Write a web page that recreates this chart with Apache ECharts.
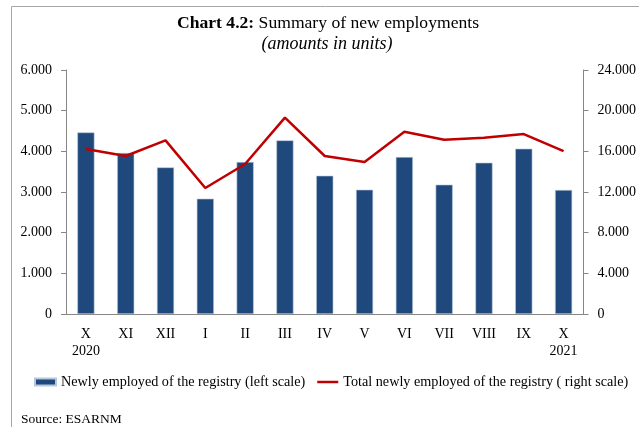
<!DOCTYPE html>
<html>
<head>
<meta charset="utf-8">
<script src="https://cdn.jsdelivr.net/npm/echarts@6/dist/echarts.min.js"></script>
<style>
  html, body { margin: 0; padding: 0; background: #fff; }
  #chart { width: 639px; height: 427px; }
</style>
</head>
<body>
<div id="chart"></div>
<script>
// monthly data, X 2020 - X 2021
const months = ['X\n2020', 'XI', 'XII', 'I', 'II', 'III', 'IV', 'V', 'VI', 'VII', 'VIII', 'IX', 'X\n2021'];
const newlyEmployed = [4465, 3960, 3605, 2835, 3737, 4270, 3400, 3056, 3860, 3180, 3720, 4065, 3050];
const totalEmployed = [16230, 15540, 17075, 12390, 14750, 19310, 15540, 14950, 17930, 17140, 17340, 17700, 16030];
const leftTicks = { min: 0, max: 6000, interval: 1000 };
const rightTicks = { min: 0, max: 24000, interval: 4000 };

const FONT = '"Liberation Serif", serif';
const AXIS_GRAY = '#868686';

function fmt(v) {
  // thousands with dot separator
  return String(v).replace(/\B(?=(\d{3})+(?!\d))/g, '.');
}

const chart = echarts.init(document.getElementById('chart'));
chart.setOption({
  animation: false,
  textStyle: { fontFamily: FONT, color: '#000' },
  title: [
    {
      text: '{b|Chart 4.2:} Summary of new employments',
      left: 328, textAlign: 'center', top: 14, padding: 0,
      textStyle: {
        fontFamily: FONT, fontSize: 17.6, fontWeight: 'normal', color: '#000',
        rich: { b: { fontFamily: FONT, fontSize: 17.6, fontWeight: 'bold', color: '#000' } }
      }
    },
    {
      text: '(amounts in units)',
      left: 327, textAlign: 'center', top: 35, padding: 0,
      textStyle: { fontFamily: FONT, fontSize: 18, fontWeight: 'normal', fontStyle: 'italic', color: '#000' }
    }
  ],
  graphic: [
    {
      type: 'rect', left: 9, top: 4, z: -1,
      shape: { width: 700, height: 500 },
      style: { fill: 'none', stroke: '#a6a6a6', lineWidth: 1 }
    },
    {
      type: 'text', left: 21, top: 412,
      style: { text: 'Source: ESARNM', font: '13.5px ' + FONT, fill: '#000' }
    }
  ],
  legend: {
    left: 29, top: 370,
    itemGap: 12, itemWidth: 21, itemHeight: 7,
    textStyle: { fontFamily: FONT, fontSize: 14.2, color: '#000' },
    data: [
      { name: 'Newly employed of the registry (left scale)', icon: 'rect' },
      { name: 'Total newly employed of the registry ( right scale)', icon: 'path://M0,0H21V2.5H0Z' }
    ]
  },
  grid: { left: 66, right: 53, top: 70, bottom: 113 },
  xAxis: {
    type: 'category',
    data: months,
    axisLine: { lineStyle: { color: AXIS_GRAY } },
    axisTick: { length: 5, lineStyle: { color: AXIS_GRAY } },
    axisLabel: { fontFamily: FONT, fontSize: 14, color: '#000', lineHeight: 17, margin: 12, interval: 0 }
  },
  yAxis: [
    {
      type: 'value', min: leftTicks.min, max: leftTicks.max, interval: leftTicks.interval,
      axisLine: { show: true, lineStyle: { color: AXIS_GRAY } },
      axisTick: { show: true, length: 5, lineStyle: { color: AXIS_GRAY } },
      splitLine: { show: false },
      axisLabel: { fontFamily: FONT, fontSize: 14, color: '#000', margin: 14, formatter: fmt }
    },
    {
      type: 'value', min: rightTicks.min, max: rightTicks.max, interval: rightTicks.interval,
      position: 'right',
      axisLine: { show: true, lineStyle: { color: AXIS_GRAY } },
      axisTick: { show: true, length: 5, lineStyle: { color: AXIS_GRAY } },
      splitLine: { show: false },
      axisLabel: { fontFamily: FONT, fontSize: 14, color: '#000', margin: 14, formatter: fmt }
    }
  ],
  series: [
    {
      name: 'Newly employed of the registry (left scale)',
      type: 'bar',
      yAxisIndex: 0,
      barWidth: '43%',
      data: newlyEmployed,
      itemStyle: { color: '#1f497d', borderColor: '#b8c7da', borderWidth: 0.6 }
    },
    {
      name: 'Total newly employed of the registry ( right scale)',
      type: 'line',
      yAxisIndex: 1,
      symbol: 'none',
      data: totalEmployed,
      lineStyle: { color: '#c00000', width: 2.5 },
      itemStyle: { color: '#c00000' }
    }
  ]
});
window.addEventListener('resize', () => chart.resize());
</script>
</body>
</html>
